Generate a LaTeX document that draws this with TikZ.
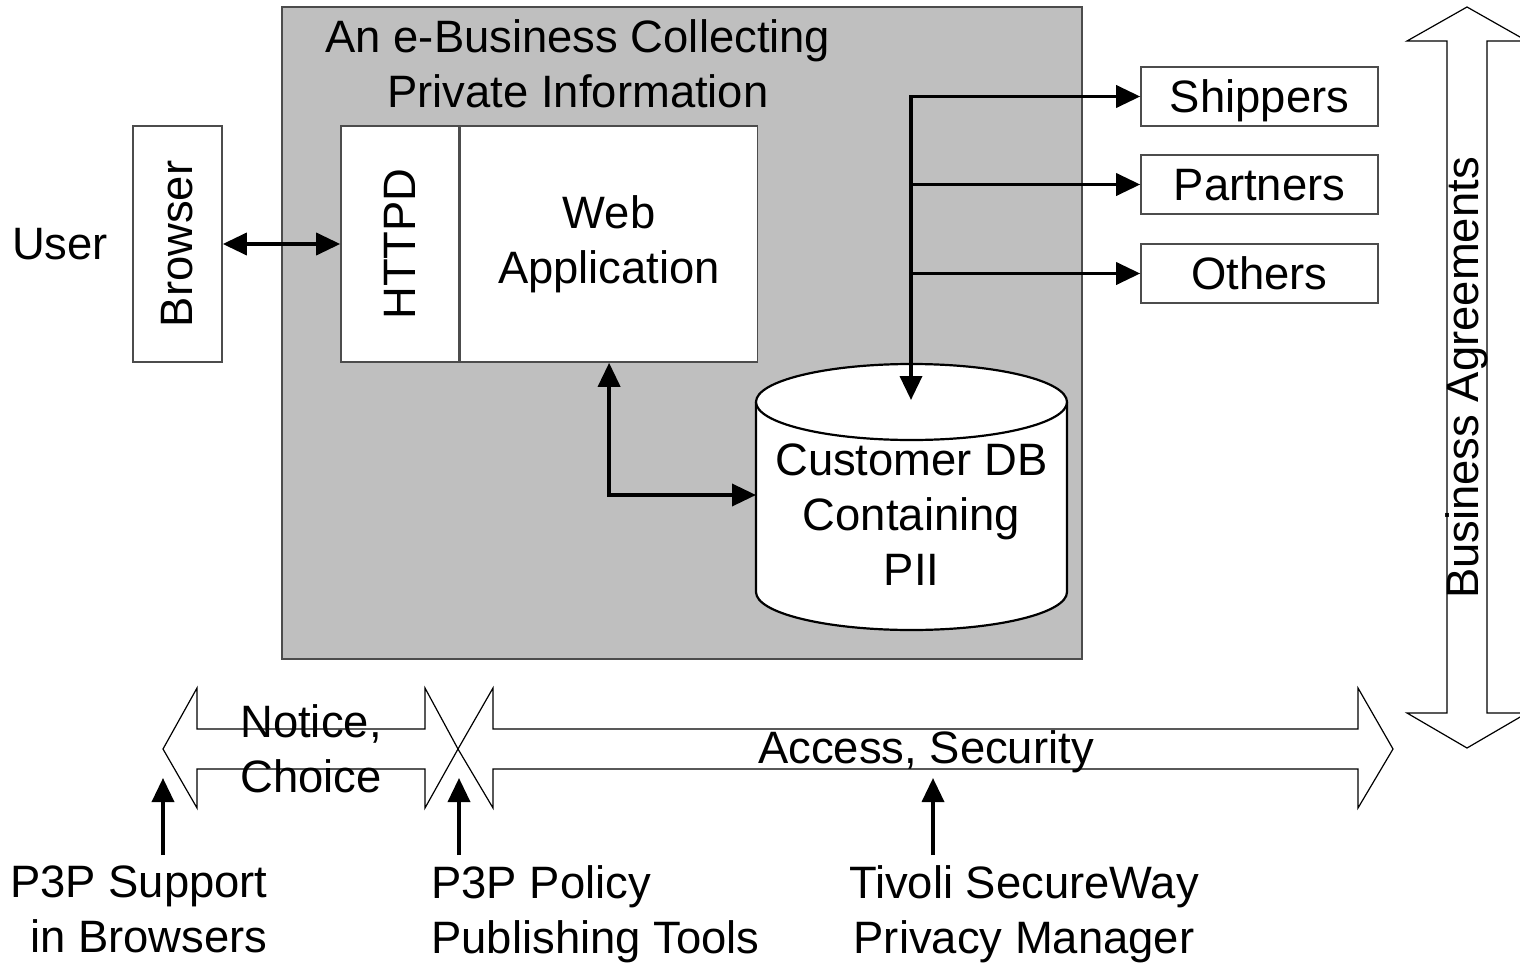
\documentclass[tikz,border=0pt]{standalone}
\usepackage{graphicx}
\usepackage{fontspec}
\setmainfont{Liberation Sans}
\usetikzlibrary{arrows.meta}

\tikzset{
  box/.style={draw=black!70, line width=0.8pt, fill=white, inner sep=0pt},
  outbox/.style={box, minimum width=118.5pt, minimum height=29.5pt, text depth=0pt},
  link/.style={line width=1.8pt, -{Triangle[length=12pt,width=11pt]}},
  twoway/.style={line width=1.8pt, {Triangle[length=12pt,width=11pt]}-{Triangle[length=12pt,width=11pt]}},
  band/.style={draw, line width=0.6pt, fill=white, line join=miter},
  caption/.style={inner sep=0pt},
}

\begin{document}
\begin{tikzpicture}[x=0.5pt, y=-0.5pt, font=\fontsize{22.7}{27.5}\selectfont]
  \useasboundingbox (0,0) rectangle (1520,963);

  % shaded e-business area
  \node[draw=black!70, fill=black!25, line width=0.6pt, minimum width=400pt, minimum height=326pt, inner sep=0pt] (ebiz) at (682,333) {};
  \node[caption, align=center, anchor=north] (title) at (578,19) {An e-Business Collecting\\Private Information};

  % user side
  \node[caption, anchor=base] (user) at (60,259) {User};
  \node[box, minimum width=44.5pt, minimum height=118pt] (browser) at (177.5,244) {\rotatebox{90}{Browser}};

  % server
  \node[box, minimum width=59pt, minimum height=118pt] (httpd) at (400,244) {\rotatebox{90}{HTTPD}};
  \node[box, minimum width=148.5pt, minimum height=118pt, align=center, anchor=west] (webapp) at (httpd.east) {Web\\Application};

  % receivers of the data
  \node[outbox] (shippers) at (1259.5,96.5) {Shippers};
  \node[outbox] (partners) at (1259.5,184.5) {Partners};
  \node[outbox] (others) at (1259.5,273.5) {Others};

  % customer database as a cylinder
  \fill[white] (756,402) -- (756,592) arc[start angle=180, end angle=0, x radius=155.5, y radius=38] -- (1067,402) -- cycle;
  \draw[line width=1.1pt] (756,402) -- (756,592) arc[start angle=180, end angle=0, x radius=155.5, y radius=38] -- (1067,402);
  \filldraw[fill=white, line width=1.1pt] (911.5,402) ellipse [x radius=155.5, y radius=38];
  \node[caption, align=center] (db) at (911.5,515) {Customer DB\\Containing\\PII};
  \coordinate (dbtop) at (911,400);
  \coordinate (dbside) at (756,495);

  % data flows
  \draw[twoway] (browser.east) -- (httpd.west);
  \draw[twoway] (webapp.south) |- (dbside);
  \draw[twoway] (shippers.west) -| (dbtop);
  \draw[link] (partners.west -| dbtop) -- (partners.west);
  \draw[link] (others.west -| dbtop) -- (others.west);

  % business agreements
  \draw[band] (1467,7) -- (1527,41) -- (1487,41) -- (1487,713) -- (1527,713) -- (1467,748)
    -- (1407,713) -- (1447,713) -- (1447,41) -- (1407,41) -- cycle;
  \node[caption, rotate=90] (agree) at (1467,378) {Business Agreements};

  % notice/choice and access/security bands
  \draw[band] (163,749) -- (197,688) -- (197,729) -- (425,729) -- (425,688) -- (458,749)
    -- (425,808) -- (425,769) -- (197,769) -- (197,808) -- cycle;
  \draw[band] (458,749) -- (493,688) -- (493,729) -- (1358,729) -- (1358,688) -- (1393,749)
    -- (1358,808) -- (1358,769) -- (493,769) -- (493,808) -- cycle;
  \node[caption, align=center] (notice) at (311,749) {Notice,\\Choice};
  \node[caption, anchor=base] (access) at (926,763) {Access, Security};

  % tools
  \node[caption, align=right, anchor=north east] (p3pbrowser) at (268,865) {P3P Support\\in Browsers};
  \node[caption, align=left, anchor=north west] (p3ptools) at (431,865) {P3P Policy\\Publishing Tools};
  \node[caption, align=center, anchor=north] (tivoli) at (1024,865) {Tivoli SecureWay\\Privacy Manager};
  \coordinate (noticetip) at (163,778);
  \coordinate (crosstip) at (459,778);
  \coordinate (accesstip) at (933,778);
  \draw[link] ([yshift=5pt]noticetip |- p3pbrowser.north) -- (noticetip);
  \draw[link] ([yshift=5pt]crosstip |- p3ptools.north) -- (crosstip);
  \draw[link] ([yshift=5pt]accesstip |- tivoli.north) -- (accesstip);
\end{tikzpicture}
\end{document}
